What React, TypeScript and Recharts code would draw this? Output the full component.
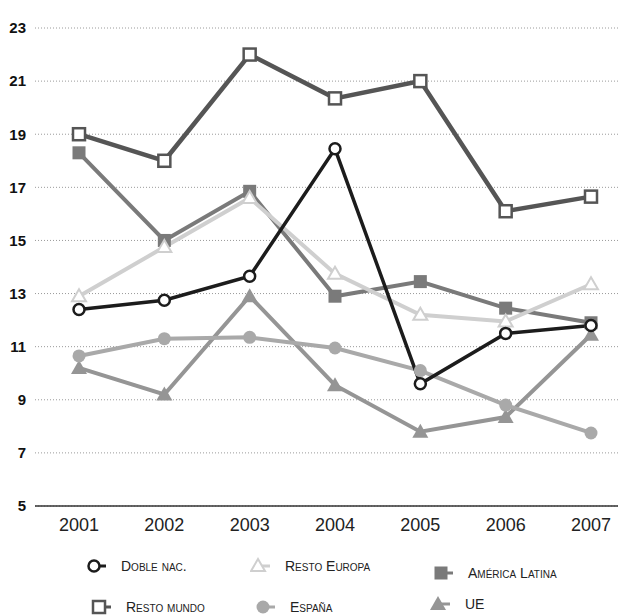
import React from "react"
import { CartesianGrid, Line, LineChart, XAxis, YAxis } from "recharts"

const years = ["2001", "2002", "2003", "2004", "2005", "2006", "2007"]
const dobleNac = [12.4, 12.75, 13.65, 18.45, 9.6, 11.5, 11.8]
const restoMundo = [19.0, 18.0, 22.0, 20.35, 21.0, 16.1, 16.65]
const americaLatina = [18.3, 15.0, 16.85, 12.9, 13.45, 12.45, 11.9]
const restoEuropa = [12.9, 14.75, 16.6, 13.75, 12.2, 11.95, 13.35]
const espana = [10.65, 11.3, 11.35, 10.95, 10.1, 8.8, 7.75]
const ue = [10.2, 9.2, 12.9, 9.55, 7.8, 8.35, 11.45]
const yTicks = [5, 7, 9, 11, 13, 15, 17, 19, 21, 23]

const data = years.map((year, i) => ({
  year,
  dobleNac: dobleNac[i],
  restoMundo: restoMundo[i],
  americaLatina: americaLatina[i],
  restoEuropa: restoEuropa[i],
  espana: espana[i],
  ue: ue[i],
}))

const font = "'Liberation Sans', Arial, Helvetica, sans-serif"

type Shape = "openCircle" | "openSquare" | "square" | "openTriangle" | "circle" | "triangle"

function Marker({ shape, cx, cy, color }: { shape: Shape; cx: number; cy: number; color: string }) {
  if (cx == null || cy == null) return null
  switch (shape) {
    case "openCircle":
      return <circle cx={cx} cy={cy} r={5.5} fill="#fff" stroke={color} strokeWidth={2.5} />
    case "circle":
      return <circle cx={cx} cy={cy} r={6.5} fill={color} stroke="none" />
    case "openSquare":
      return <rect x={cx - 6} y={cy - 6} width={12} height={12} fill="#fff" stroke={color} strokeWidth={2.5} />
    case "square":
      return <rect x={cx - 6.5} y={cy - 6.5} width={13} height={13} fill={color} stroke="none" />
    case "openTriangle":
      return (
        <polygon
          points={`${cx},${cy - 7} ${cx - 7},${cy + 5} ${cx + 7},${cy + 5}`}
          fill="#fff"
          stroke={color}
          strokeWidth={2}
          strokeLinejoin="miter"
        />
      )
    case "triangle":
      return <polygon points={`${cx},${cy - 8} ${cx - 8},${cy + 6} ${cx + 8},${cy + 6}`} fill={color} stroke="none" />
  }
}

const series: { key: string; name: string; color: string; width: number; shape: Shape }[] = [
  { key: "ue", name: "UE", color: "#959595", width: 4, shape: "triangle" },
  { key: "americaLatina", name: "América Latina", color: "#7a7a7a", width: 4, shape: "square" },
  { key: "restoMundo", name: "Resto mundo", color: "#555555", width: 4.5, shape: "openSquare" },
  { key: "restoEuropa", name: "Resto Europa", color: "#cfcfcf", width: 4, shape: "openTriangle" },
  { key: "espana", name: "España", color: "#a9a9a9", width: 4, shape: "circle" },
  { key: "dobleNac", name: "Doble nac.", color: "#1c1c1c", width: 3.5, shape: "openCircle" },
]

// legend layout: [series key, left, center y]
const legendItems: [string, number, number][] = [
  ["dobleNac", 86, 566],
  ["restoEuropa", 250, 566],
  ["americaLatina", 433, 573],
  ["restoMundo", 91, 607],
  ["espana", 255, 607],
  ["ue", 430, 604],
]

function LegendIcon({ shape, color }: { shape: Shape; color: string }) {
  return (
    <svg width={26} height={18} style={{ display: "block" }}>
      <line x1={8} y1={9} x2={20} y2={9} stroke={color} strokeWidth={3} />
      <Marker shape={shape} cx={8} cy={9} color={color} />
    </svg>
  )
}

export default function App() {
  return (
    <div style={{ position: "absolute", left: 0, top: 0, width: 618, height: 615, background: "#fff" }}>
      <LineChart width={618} height={546} data={data} margin={{ top: 28, right: 0, bottom: 0, left: 0 }}>
        <CartesianGrid vertical={false} stroke="#9a9a9a" strokeDasharray="1 2" />
        <XAxis
          dataKey="year"
          padding={{ left: 44, right: 27 }}
          height={40}
          tickLine={false}
          tickMargin={6}
          axisLine={{ stroke: "#333", strokeWidth: 1.5 }}
          tick={{ fill: "#222", fontSize: 18, fontFamily: font }}
        />
        <YAxis
          domain={[5, 23]}
          ticks={yTicks}
          width={35}
          tickLine={false}
          axisLine={false}
          tickMargin={3}
          tick={{ fill: "#111", fontSize: 15, fontWeight: 700, fontFamily: font }}
        />
        {series.map((s) => (
          <Line
            key={s.key}
            dataKey={s.key}
            name={s.name}
            type="linear"
            stroke={s.color}
            strokeWidth={s.width}
            isAnimationActive={false}
            dot={(p: any) => <Marker key={`${s.key}-${p.index}`} shape={s.shape} cx={p.cx} cy={p.cy} color={s.color} />}
            activeDot={false}
          />
        ))}
      </LineChart>
      {legendItems.map(([key, left, cy]) => {
        const s = series.find((x) => x.key === key)!
        return (
          <div
            key={key}
            style={{
              position: "absolute",
              left,
              top: cy - 9,
              height: 18,
              display: "flex",
              alignItems: "center",
              fontFamily: font,
              fontSize: 14,
              fontVariant: "small-caps",
              color: "#222",
              whiteSpace: "nowrap",
            }}
          >
            <LegendIcon shape={s.shape} color={s.color} />
            <span style={{ marginLeft: 9 }}>{s.name}</span>
          </div>
        )
      })}
    </div>
  )
}
